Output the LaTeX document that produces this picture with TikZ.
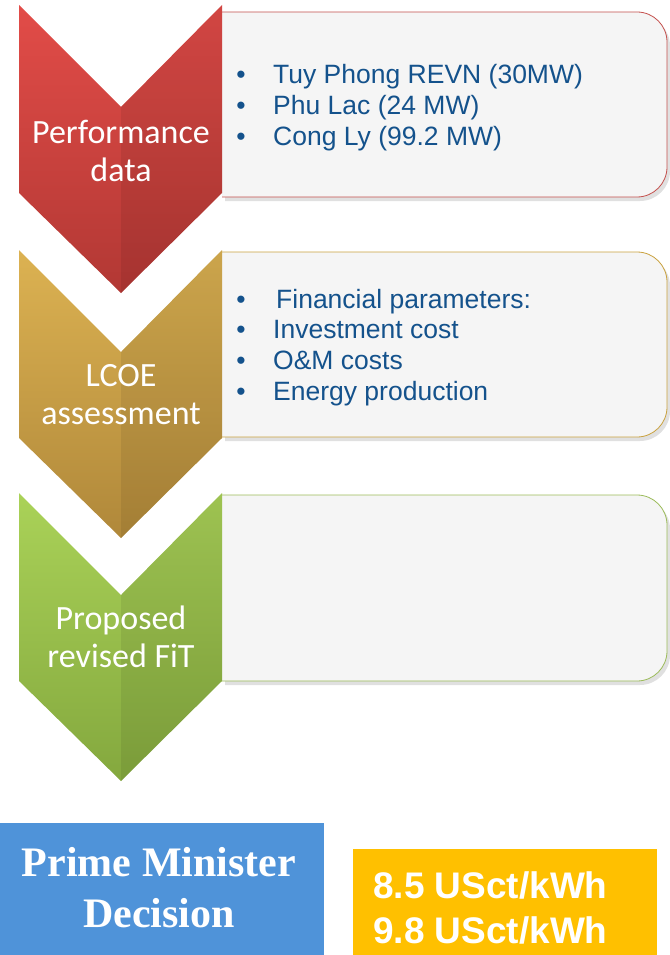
\documentclass[tikz,border=0pt]{standalone}
\usepackage{fontspec}
\setmainfont{Liberation Sans}
\newfontfamily\calfont{Carlito}
\newfontfamily\timesfont{Liberation Serif}
\definecolor{redtop}{RGB}{226,76,72}
\definecolor{redbot}{RGB}{178,56,52}
\definecolor{redline}{RGB}{196,80,77}
\definecolor{goldtop}{RGB}{220,178,82}
\definecolor{goldbot}{RGB}{176,136,58}
\definecolor{goldline}{RGB}{201,161,62}
\definecolor{greentop}{RGB}{170,210,88}
\definecolor{greenbot}{RGB}{132,168,62}
\definecolor{greenline}{RGB}{155,187,89}
\definecolor{boxgray}{RGB}{245,245,245}
\definecolor{listblue}{RGB}{20,82,140}
\definecolor{pmblue}{RGB}{79,147,217}
\definecolor{fityellow}{RGB}{255,192,0}
\begin{document}
\begin{tikzpicture}[x=1pt,y=-1pt,
	chevtext/.style={text=white, align=center, font=\calfont\fontsize{34}{38}\selectfont},
	listtext/.style={text=listblue, anchor=west, inner sep=0pt, text height=0.72em, text depth=0.2em, font=\fontsize{26.5}{31}\selectfont},
	listdot/.style={text=listblue, inner sep=0pt, text height=0.72em, text depth=0.2em, font=\fontsize{26.5}{31}\selectfont}]
	\useasboundingbox (0,0) rectangle (669,955);
	% step boxes
	\fill[black!12, rounded corners=30pt] (225,16) -- (670,16) -- (670,201) -- (225,201);
	\draw[redline, thick, fill=boxgray, rounded corners=30pt] (222,12) -- (667,12) -- (667,197) -- (222,197);
	\fill[black!12, rounded corners=30pt] (225,256) -- (670,256) -- (670,441) -- (225,441);
	\draw[goldline, thick, fill=boxgray, rounded corners=30pt] (222,252) -- (667,252) -- (667,437) -- (222,437);
	\fill[black!12, rounded corners=30pt] (225,499) -- (670,499) -- (670,685) -- (225,685);
	\draw[greenline, thick, fill=boxgray, rounded corners=30pt] (222,495) -- (667,495) -- (667,681) -- (222,681);
	% chevrons
	\shade[top color=redtop, bottom color=redbot] (19,5) -- (121,107) -- (222,5) -- (222,193) -- (121,293) -- (19,193) -- cycle;
	\fill[black, opacity=0.07] (121,107) -- (222,5) -- (222,193) -- (121,293) -- cycle;
	\shade[top color=goldtop, bottom color=goldbot] (19,250) -- (121,352) -- (222,250) -- (222,438) -- (121,538) -- (19,438) -- cycle;
	\fill[black, opacity=0.07] (121,352) -- (222,250) -- (222,438) -- (121,538) -- cycle;
	\shade[top color=greentop, bottom color=greenbot] (19,493) -- (121,595) -- (222,493) -- (222,681) -- (121,781) -- (19,681) -- cycle;
	\fill[black, opacity=0.07] (121,595) -- (222,493) -- (222,681) -- (121,781) -- cycle;
	\node[chevtext] (perf) at (121,151) {Performance\\data};
	\node[chevtext] (lcoe) at (121,395) {LCOE\\assessment};
	\node[chevtext] (fit) at (121,637) {Proposed\\revised FiT};
	% lists
	\node[listdot] (d1) at (241,81) {•};
	\node[listtext] (plant1) at (273,81) {Tuy Phong REVN (30MW)};
	\node[listdot] (d2) at (241,112) {•};
	\node[listtext] (plant2) at (273,112) {Phu Lac (24 MW)};
	\node[listdot] (d3) at (241,143) {•};
	\node[listtext] (plant3) at (273,143) {Cong Ly (99.2 MW)};
	\node[listdot] (d4) at (241,306) {•};
	\node[listtext] (par1) at (276,306) {Financial parameters:};
	\node[listdot] (d5) at (241,336) {•};
	\node[listtext] (par2) at (273,336) {Investment cost};
	\node[listdot] (d6) at (241,367) {•};
	\node[listtext] (par3) at (273,367) {O\&M costs};
	\node[listdot] (d7) at (241,398) {•};
	\node[listtext] (par4) at (273,398) {Energy production};
	% decision
	\fill[pmblue] (0,823) rectangle (324,955);
	\node[text=white, align=center, font=\timesfont\bfseries\fontsize{42}{51}\selectfont] (pm) at (159,888) {Prime Minister\\Decision};
	\fill[fityellow] (353,849) rectangle (657,955);
	\node[text=white, align=left, anchor=west, inner sep=0pt, font=\bfseries\fontsize{37}{45}\selectfont] (tariff) at (373,908) {8.5 USct/kWh\\9.8 USct/kWh};
\end{tikzpicture}
\end{document}
